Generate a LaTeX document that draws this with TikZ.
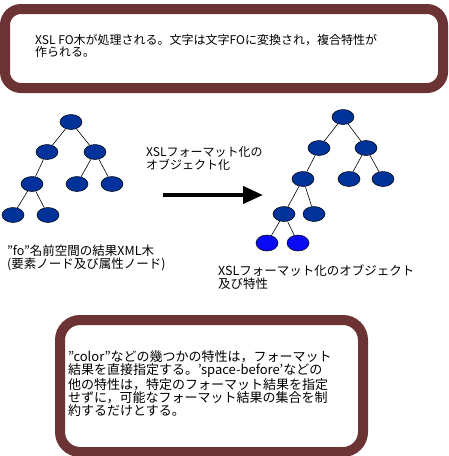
\documentclass[tikz,border=0pt]{standalone}
\usepackage{fontspec}
\setmainfont{Noto Sans CJK JP}
\usetikzlibrary{arrows.meta}
\definecolor{boxred}{HTML}{6B3333}
\definecolor{navy}{HTML}{003399}
\definecolor{bright}{HTML}{0A0AF5}
\tikzset{
  roundbox/.style={draw=boxred,line width=10pt,rounded corners=16pt,fill=white},
  tnode/.style={ellipse,draw=black,line width=0.5pt,fill=navy,minimum width=22pt,minimum height=15pt,inner sep=0pt},
  tleaf/.style={tnode,fill=bright,minimum height=16pt},
  tedge/.style={draw=black,line width=0.6pt},
  txt/.style={inner sep=0pt,align=left,anchor=north west}
}
\usetikzlibrary{shapes.geometric}
\begin{document}
\begin{tikzpicture}[x=1pt,y=-1pt]
\useasboundingbox (0,0) rectangle (448,456);
% top box
\draw[roundbox] (5,9) rectangle (443,88);
\node[txt,font=\fontsize{12}{12}\selectfont] (toptxt) at (35,34) {XSL FO木が処理される。文字は文字FOに変換され，複合特性が\\作られる。};
% left tree
\node[tnode] (a) at (71,122) {};
\node[tnode] (b1) at (47,152) {};
\node[tnode] (b2) at (95,152) {};
\node[tnode] (c1) at (32,184) {};
\node[tnode] (c2) at (77,184) {};
\node[tnode] (c3) at (112,184) {};
\node[tnode] (d1) at (13,215) {};
\node[tnode] (d2) at (48,215) {};
\draw[tedge] (a)--(b1) (a)--(b2) (b1)--(c1) (b2)--(c2) (b2)--(c3) (c1)--(d1) (c1)--(d2);
\node[txt,font=\fontsize{12.5}{12.5}\selectfont] (ltxt) at (7,245) {”fo”名前空間の結果XML木\\(要素ノード及び属性ノード)};
% arrow
\coordinate (as) at (163,195);
\coordinate (ae) at (263,195);
\draw[line width=4pt,-{Triangle[length=20pt,width=17pt]}] (as)--(ae);
\node[txt,font=\fontsize{12}{13.5}\selectfont] (atxt) at (146,146) {XSLフォーマット化の\\オブジェクト化};
% right tree
\node[tnode] (r) at (343,117) {};
\node[tnode] (s1) at (319,148) {};
\node[tnode] (s2) at (366,148) {};
\node[tnode] (t1) at (303,179) {};
\node[tnode] (t2) at (349,179) {};
\node[tnode] (t3) at (383,179) {};
\node[tnode] (u1) at (284,214) {};
\node[tnode] (u2) at (314,214) {};
\node[tleaf] (v1) at (267,243) {};
\node[tleaf] (v2) at (298,243) {};
\draw[tedge] (r)--(s1) (r)--(s2) (s1)--(t1) (s2)--(t2) (s2)--(t3) (t1)--(u1) (t1)--(u2) (u1)--(v1) (u1)--(v2);
\node[txt,font=\fontsize{12.5}{13}\selectfont] (rtxt) at (218,265) {XSLフォーマット化のオブジェクト\\及び特性};
% bottom box
\draw[roundbox,rounded corners=20pt] (60,320) rectangle (363,452);
\node[txt,font=\fontsize{13}{13.3}\selectfont] (btxt) at (68,350) {”color”などの幾つかの特性は，フォーマット\\結果を直接指定する。’space-before’などの\\他の特性は，特定のフォーマット結果を指定\\せずに，可能なフォーマット結果の集合を制\\約するだけとする。};
\end{tikzpicture}
\end{document}
